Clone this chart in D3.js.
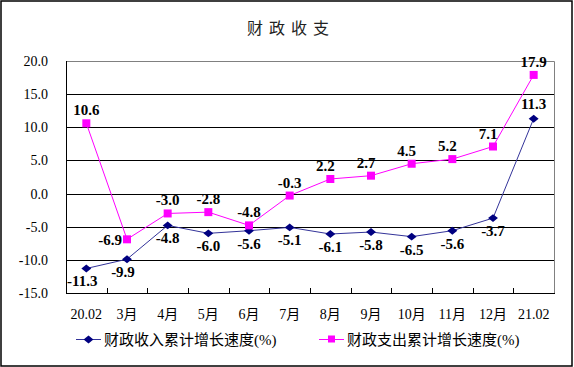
<!DOCTYPE html>
<html>
<head>
<meta charset="utf-8">
<script src="https://cdn.jsdelivr.net/npm/d3@7"></script>
<style>
  html, body { margin: 0; padding: 0; background: #fff; }
  svg { display: block; }
</style>
</head>
<body>
<div id="chart"></div>
<script>
// data
const months = ["20.02", "3月", "4月", "5月", "6月", "7月", "8月", "9月", "10月", "11月", "12月", "21.02"];
const income = [-11.3, -9.9, -4.8, -6.0, -5.6, -5.1, -6.1, -5.8, -6.5, -5.6, -3.7, 11.3];
const spend = [10.6, -6.9, -3.0, -2.8, -4.8, -0.3, 2.2, 2.7, 4.5, 5.2, 7.1, 17.9];
const yTicks = [-15, -10, -5, 0, 5, 10, 15, 20];
const seriesNames = ["财政收入累计增长速度(%)", "财政支出累计增长速度(%)"];

const W = 574, H = 367;
const margin = {top: 61, right: 20, bottom: 74, left: 66};
const graphW = W - margin.left - margin.right;   // 488
const graphH = H - margin.top - margin.bottom;   // 232

const serif = "'Liberation Serif', 'Times New Roman', 'Noto Sans CJK SC', serif";
const cjk = "'Liberation Serif', 'Noto Sans CJK SC', sans-serif";

const svg = d3.select("#chart").append("svg")
	.attr("width", W)
	.attr("height", H);

// outer frame
svg.append("rect")
	.attr("x", 1).attr("y", 1)
	.attr("width", 571).attr("height", 365)
	.attr("fill", "none")
	.attr("stroke", "#000")
	.attr("stroke-width", 1.5);

// title
svg.append("text")
	.attr("x", 291).attr("y", 34)
	.attr("text-anchor", "middle")
	.style("font-family", "'Noto Sans CJK SC', sans-serif")
	.style("font-size", "16px")
	.style("letter-spacing", "6px")
	.style("fill", "#222")
	.text("财政收支");

const g = svg.append("g")
	.attr("transform", "translate(" + margin.left + "," + margin.top + ")");

const x = d3.scaleBand().domain(months).range([0, graphW]);
const y = d3.scaleLinear().domain([-15, 20]).range([graphH, 0]);
const cx = d => x(d) + x.bandwidth() / 2;

// gridlines
g.selectAll(".grid")
	.data(yTicks.filter(t => t > -15 && t < 20))
	.enter().append("line")
	.attr("x1", 0).attr("x2", graphW)
	.attr("y1", d => Math.round(y(d)) + 0.5)
	.attr("y2", d => Math.round(y(d)) + 0.5)
	.attr("stroke", "#000")
	.attr("stroke-width", 1);

// plot frame (top / right in grey)
g.append("path")
	.attr("d", "M0.5," + 0.5 + "H" + (graphW + 0.5) + "V" + graphH)
	.attr("fill", "none")
	.attr("stroke", "#808080");

// y axis
const yAxis = g.append("g")
	.call(d3.axisLeft(y).tickValues(yTicks).tickSize(0).tickPadding(18).tickFormat(d3.format(".1f")));
yAxis.select(".domain").attr("stroke", "#000").attr("d", "M0.5,0V" + graphH);
yAxis.selectAll("text")
	.style("font-family", serif)
	.style("font-size", "14px")
	.style("fill", "#000")
	.text(d => d3.format(".1f")(d).replace("−", "-"));

// x axis
const xAxis = g.append("g")
	.attr("transform", "translate(0," + graphH + ")")
	.call(d3.axisBottom(x).tickSize(0).tickPadding(16));
xAxis.select(".domain").attr("stroke", "#000").attr("d", "M0," + 0.5 + "H" + (graphW + 1));
xAxis.selectAll("text")
	.style("font-family", cjk)
	.style("font-size", "14px")
	.style("fill", "#000");
// inward ticks between categories
xAxis.selectAll(".sep")
	.data(months.slice(1))
	.enter().append("line")
	.attr("x1", d => Math.round(x(d)) + 0.5)
	.attr("x2", d => Math.round(x(d)) + 0.5)
	.attr("y1", 0).attr("y2", -5)
	.attr("stroke", "#000");

const line = d3.line()
	.x((d, i) => cx(months[i]))
	.y(d => y(d));

// income series
g.append("path")
	.datum(income)
	.attr("d", line)
	.attr("fill", "none")
	.attr("stroke", "#333399")
	.attr("stroke-width", 1);

// expenditure series
g.append("path")
	.datum(spend)
	.attr("d", line)
	.attr("fill", "none")
	.attr("stroke", "#FF00FF")
	.attr("stroke-width", 1);

const diamond = d3.symbol().type(d3.symbolDiamond2).size(40);
g.selectAll(".inc")
	.data(income)
	.enter().append("path")
	.attr("d", diamond)
	.attr("transform", (d, i) => "translate(" + cx(months[i]) + "," + y(d) + ") scale(1.25,1)")
	.attr("fill", "#000080");

g.selectAll(".exp")
	.data(spend)
	.enter().append("rect")
	.attr("x", (d, i) => cx(months[i]) - 4)
	.attr("y", d => y(d) - 4)
	.attr("width", 8).attr("height", 8)
	.attr("fill", "#FF00FF");

// data labels
function labelStyle(sel) {
	sel.style("font-family", serif)
		.style("font-size", "15px")
		.style("font-weight", "bold")
		.style("fill", "#000")
		.attr("text-anchor", "middle");
}

const last = months.length - 1;
g.selectAll(".incLbl")
	.data(income)
	.enter().append("text")
	.call(labelStyle)
	.attr("x", (d, i) => cx(months[i]) - (i < 2 ? 4 : 0))
	.attr("y", (d, i) => i === last ? y(d) - 10 : y(d) + 18)
	.text(d => d.toFixed(1));

g.selectAll(".expLbl")
	.data(spend)
	.enter().append("text")
	.call(labelStyle)
	.attr("x", (d, i) => i === 1 ? cx(months[i]) - 5 : cx(months[i]) - (i > 5 && i < last ? 5 : 0))
	.attr("y", (d, i) => i === 1 ? y(d) + 6 : y(d) - 8)
	.attr("text-anchor", (d, i) => i === 1 ? "end" : "middle")
	.text(d => d.toFixed(1));

// legend
const legend = svg.append("g").attr("transform", "translate(0,339)");
const legendItems = [
	{x: 76, name: seriesNames[0], color: "#333399", mark: "diamond"},
	{x: 319, name: seriesNames[1], color: "#FF00FF", mark: "square"}
];
legendItems.forEach(function(it) {
	legend.append("line")
		.attr("x1", it.x).attr("x2", it.x + 25)
		.attr("y1", 0.5).attr("y2", 0.5)
		.attr("stroke", it.color);
	if (it.mark === "diamond") {
		legend.append("path")
			.attr("d", diamond)
			.attr("transform", "translate(" + (it.x + 12.5) + ",0.5) scale(1.25,1)")
			.attr("fill", "#000080");
	} else {
		legend.append("rect")
			.attr("x", it.x + 9).attr("y", -3.5)
			.attr("width", 7).attr("height", 7)
			.attr("fill", it.color);
	}
	legend.append("text")
		.attr("x", it.x + 28).attr("y", 6)
		.style("font-family", cjk)
		.style("font-size", "15px")
		.style("fill", "#000")
		.text(it.name);
});
</script>
</body>
</html>
